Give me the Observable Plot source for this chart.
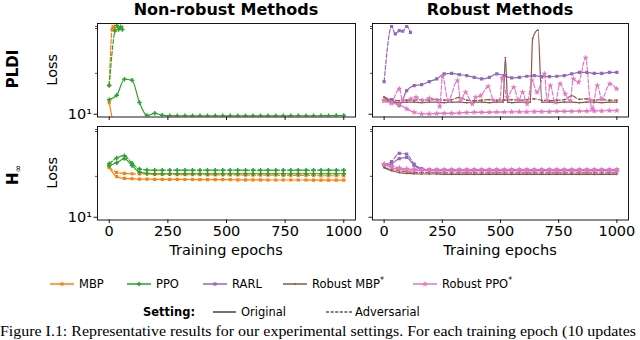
<!DOCTYPE html>
<html><head><meta charset="utf-8">
<script src="https://cdn.jsdelivr.net/npm/d3@7"></script>
<script src="https://cdn.jsdelivr.net/npm/@observablehq/plot@0.6"></script>
<style>
body{margin:0;background:#fff;}
#wrap{position:relative;width:640px;height:340px;overflow:hidden;font-family:"DejaVu Sans",sans-serif;background:#fff;}
#wrap svg{position:absolute;}
</style></head><body><div id="wrap"></div>
<script>
// ---------- categories / labels ----------
const methods = ["MBP", "PPO", "RARL", "Robust MBP", "Robust PPO"];
const methodColors = ["#ff7f0e", "#2ca02c", "#9467bd", "#8c564b", "#e377c2"];
const methodSymbols = ["square", "cross", "square", "circle", "star"];
const methodMarkerR = [1.8, 1.9, 1.8, 0.9, 2.0];
const columnTitles = ["Non-robust Methods", "Robust Methods"];
const rowTitles = ["PLDI", "H"];
const xTicks = [0, 250, 500, 750, 1000];
const yMajorTicks = [10];
const yMinorTicks = [20, 42.7, 44.2];
const xDomain = [-50, 1050];
const yDomain = [9.55, 46.5];

// common evaluation epochs (32 points)
const epochs = [0, 32, 65, 97, 129, 161, 194, 226, 258, 290, 323, 355, 387, 419, 452, 484, 516, 548, 581, 613, 645, 677, 710, 742, 774, 806, 839, 871, 903, 935, 968, 1000];

// ---------- PLDI, non-robust ----------
const pldiMbpOrigEpochs = [0, 32];
const pldiMbpOrig = [12.2, 6.2];
const pldiMbpAdvEpochs = [0, 12, 16, 20, 28];
const pldiMbpAdv = [16.3, 42, 44, 43, 120];
const pldiPpoOrig = [12.8, 13.8, 18.1, 17.8, 12.2, 9.78, 10.17, 9.83, 9.76, 9.75, 9.75, 9.74, 9.75, 9.75, 9.74, 9.75, 9.75, 9.74, 9.75, 9.75, 9.75, 9.74, 9.75, 9.75, 9.75, 9.76, 9.75, 9.75, 9.76, 9.77, 9.78, 9.8];
const pldiPpoAdvEpochs = [0, 24, 32, 40, 48, 56, 64];
const pldiPpoAdv = [16.3, 41, 45, 42, 44, 42, 150];

// ---------- PLDI, robust ----------
const pldiRarlOrig = [12.61, 12.82, 11.59, 14.94, 16.26, 16.52, 17.39, 18.21, 19.82, 20.0, 19.58, 19.24, 18.7, 18.21, 18.7, 19.82, 19.24, 18.52, 18.7, 19.03, 19.24, 18.93, 18.93, 19.03, 19.24, 19.82, 20.36, 20.36, 20.0, 20.0, 20.36, 20.36];
const pldiRarlAdvEpochs = [0, 32, 48, 65, 80, 97, 113];
const pldiRarlAdv = [17.4, 44.2, 39.0, 41.2, 40.8, 44.2, 40.0];
const pldiRmbpOrigEpochs = [0, 32, 65, 97, 129, 161, 194, 226, 258, 290, 323, 355, 387, 419, 452, 484, 511, 521, 531, 548, 581, 613, 628, 638, 661, 678, 710, 742, 774, 806, 839, 871, 903, 935, 968, 1000];
const pldiRmbpOrig = [13.3, 12.3, 12.2, 12.3, 12.3, 12.2, 12.3, 12.3, 12.2, 12.3, 12.3, 12.2, 12.3, 12.3, 12.2, 12.3, 12.3, 26.1, 12.3, 12.2, 12.3, 12.3, 12.3, 36.0, 41.5, 12.3, 12.3, 12.2, 12.3, 12.3, 12.2, 12.3, 12.3, 12.2, 12.3, 12.3];
const pldiRmbpAdv = [13.4, 12.8, 12.6, 12.7, 12.7, 12.8, 12.7, 12.9, 12.7, 12.8, 13.3, 12.7, 12.6, 12.7, 12.8, 12.7, 12.7, 12.8, 12.7, 12.8, 13.0, 12.7, 12.6, 12.7, 12.8, 13.7, 12.9, 13.0, 12.7, 12.8, 12.7, 12.7];
const pldiRppoOrig = [12.61, 12.05, 11.78, 10.96, 10.34, 10.07, 10.07, 10.12, 10.17, 10.17, 10.24, 10.29, 10.34, 10.34, 10.34, 10.38, 10.38, 10.41, 10.41, 10.41, 10.46, 10.46, 10.46, 10.52, 10.52, 10.52, 10.56, 10.56, 10.59, 10.59, 10.65, 10.65];
const pldiRppoAdvEpochs = [0, 30, 65, 80, 115, 137, 165, 194, 229, 239, 251, 275, 315, 329, 350, 379, 393, 415, 447, 471, 497, 507, 529, 557, 578, 595, 614, 635, 657, 689, 700, 714, 735, 756, 778, 799, 813, 835, 866, 885, 894, 916, 935, 970, 999];
const pldiRppoAdv = [12.6, 12.25, 15.37, 12.61, 12.98, 13.34, 12.61, 13.11, 12.61, 11.39, 19.0, 12.61, 17.69, 12.61, 14.51, 11.92, 13.34, 13.72, 15.98, 12.61, 12.61, 18.52, 13.34, 15.79, 12.61, 14.51, 11.92, 17.69, 14.51, 19.82, 12.61, 16.26, 12.25, 16.73, 14.13, 12.61, 18.21, 17.19, 25.98, 12.61, 10.96, 16.26, 12.98, 16.73, 15.37];

// ---------- H-infinity, non-robust ----------
const hinfMbpOrig = [23.3, 19.9, 19.3, 19.2, 19.1, 19.1, 19.0, 19.0, 19.0, 19.0, 18.95, 18.95, 18.9, 18.9, 18.9, 18.9, 18.9, 18.85, 18.85, 18.85, 18.85, 18.8, 18.8, 18.8, 18.8, 18.8, 18.8, 18.75, 18.75, 18.75, 18.75, 18.75];
const hinfMbpAdv = [23.3, 21.4, 21.0, 20.9, 20.8, 20.8, 20.7, 20.7, 20.7, 20.6, 20.6, 20.6, 20.6, 20.5, 20.5, 20.5, 20.5, 20.5, 20.4, 20.4, 20.4, 20.4, 20.4, 20.3, 20.3, 20.3, 20.3, 20.3, 20.2, 20.2, 20.2, 20.2];
const hinfPpoOrig = [24.0, 25.2, 27.0, 24.0, 21.5, 21.0, 20.9, 20.9, 20.9, 20.9, 20.9, 20.9, 20.9, 20.9, 20.9, 20.9, 20.9, 20.9, 20.9, 20.9, 20.9, 20.9, 20.9, 20.9, 20.9, 20.9, 20.9, 20.9, 20.9, 20.9, 20.9, 20.9];
const hinfPpoAdv = [24.7, 27.3, 28.3, 25.0, 22.6, 22.3, 22.2, 22.2, 22.2, 22.2, 22.2, 22.2, 22.2, 22.2, 22.2, 22.2, 22.2, 22.2, 22.2, 22.2, 22.2, 22.2, 22.2, 22.2, 22.2, 22.2, 22.2, 22.2, 22.2, 22.2, 22.2, 22.2];

// ---------- H-infinity, robust ----------
const hinfRarlOrig = [24.3, 24.8, 27.0, 27.5, 24.0, 22.5, 22.2, 22.2, 22.1, 22.1, 22.1, 22.1, 22.1, 22.1, 22.1, 22.1, 22.1, 22.1, 22.1, 22.1, 22.1, 22.1, 22.1, 22.1, 22.1, 22.1, 22.1, 22.1, 22.1, 22.1, 22.1, 22.1];
const hinfRarlAdv = [24.3, 25.7, 29.5, 29.1, 24.6, 22.8, 22.4, 22.3, 22.3, 22.3, 22.3, 22.3, 22.3, 22.3, 22.3, 22.3, 22.3, 22.3, 22.3, 22.3, 22.3, 22.3, 22.3, 22.3, 22.3, 22.3, 22.3, 22.3, 22.3, 22.3, 22.3, 22.3];
const hinfRmbpOrig = [23.2, 22.0, 21.3, 21.0, 20.9, 20.8, 20.8, 20.8, 20.7, 20.7, 20.7, 20.7, 20.7, 20.7, 20.7, 20.7, 20.7, 20.7, 20.7, 20.7, 20.7, 20.7, 20.7, 20.7, 20.7, 20.7, 20.7, 20.7, 20.7, 20.7, 20.7, 20.7];
const hinfRmbpAdv = [23.2, 22.5, 22.0, 21.6, 21.4, 21.3, 21.3, 21.2, 21.2, 21.2, 21.2, 21.2, 21.2, 21.2, 21.2, 21.2, 21.2, 21.2, 21.2, 21.2, 21.2, 21.2, 21.2, 21.2, 21.2, 21.2, 21.2, 21.2, 21.2, 21.2, 21.2, 21.2];
const hinfRppoOrig = [24.6, 23.2, 22.6, 22.3, 22.1, 22.0, 22.0, 21.9, 21.9, 21.9, 21.9, 21.9, 21.9, 21.9, 21.9, 21.9, 21.9, 21.9, 21.9, 21.9, 21.9, 21.9, 21.9, 21.9, 21.9, 21.9, 21.9, 21.9, 21.9, 21.9, 21.9, 21.9];
const hinfRppoAdv = [24.6, 23.8, 23.1, 22.7, 22.5, 22.4, 22.4, 22.4, 22.4, 22.4, 22.4, 22.4, 22.4, 22.4, 22.4, 22.4, 22.4, 22.4, 22.4, 22.4, 22.4, 22.4, 22.4, 22.4, 22.4, 22.4, 22.4, 22.4, 22.4, 22.4, 22.4, 22.4];

// ---------- series table ----------
const seriesList = [
  ["pldi", 0, "MBP", "orig", pldiMbpOrigEpochs, pldiMbpOrig],
  ["pldi", 0, "MBP", "adv", pldiMbpAdvEpochs, pldiMbpAdv],
  ["pldi", 0, "PPO", "orig", epochs, pldiPpoOrig],
  ["pldi", 0, "PPO", "adv", pldiPpoAdvEpochs, pldiPpoAdv],
  ["pldi", 1, "RARL", "orig", epochs, pldiRarlOrig],
  ["pldi", 1, "RARL", "adv", pldiRarlAdvEpochs, pldiRarlAdv],
  ["pldi", 1, "Robust MBP", "orig", pldiRmbpOrigEpochs, pldiRmbpOrig],
  ["pldi", 1, "Robust MBP", "adv", epochs, pldiRmbpAdv],
  ["pldi", 1, "Robust PPO", "orig", epochs, pldiRppoOrig],
  ["pldi", 1, "Robust PPO", "adv", pldiRppoAdvEpochs, pldiRppoAdv],
  ["hinf", 0, "MBP", "orig", epochs, hinfMbpOrig],
  ["hinf", 0, "MBP", "adv", epochs, hinfMbpAdv],
  ["hinf", 0, "PPO", "orig", epochs, hinfPpoOrig],
  ["hinf", 0, "PPO", "adv", epochs, hinfPpoAdv],
  ["hinf", 1, "RARL", "orig", epochs, hinfRarlOrig],
  ["hinf", 1, "RARL", "adv", epochs, hinfRarlAdv],
  ["hinf", 1, "Robust MBP", "orig", epochs, hinfRmbpOrig],
  ["hinf", 1, "Robust MBP", "adv", epochs, hinfRmbpAdv],
  ["hinf", 1, "Robust PPO", "orig", epochs, hinfRppoOrig],
  ["hinf", 1, "Robust PPO", "adv", epochs, hinfRppoAdv]
];
const rows = [];
seriesList.forEach(([row, col, method, setting, xs, ys], k) => {
  xs.forEach((e, i) => rows.push({row, col, method, setting, series: k, epoch: e, loss: ys[i]}));
});

const wrap = document.getElementById("wrap");
const FONT = "DejaVu Sans";

function drawPanel(row, col, frame) {
  const [fl, ft, fw, fh] = frame;
  const mL = 45, mR = 4, mT = 4, mB = 42;
  const data = rows.filter(d => d.row === row && d.col === col);
  const showX = row === "hinf";
  const showY = col === 0;
  const marks = [];
  ["orig", "adv"].forEach(s => {
    marks.push(Plot.line(data.filter(d => d.setting === s), {
      x: "epoch", y: "loss", z: "series", stroke: "method",
      strokeWidth: 1.2, strokeDasharray: s === "adv" ? "4,2" : null,
      curve: "monotone-x", clip: true
    }));
  });
  methods.forEach((m, i) => {
    const md = data.filter(d => d.method === m);
    if (md.length) marks.push(Plot.dot(md, {
      x: "epoch", y: "loss", fill: "method", symbol: () => methodSymbols[i],
      r: methodMarkerR[i], stroke: "none", clip: true
    }));
  });
  marks.push(Plot.frame({stroke: "#000", strokeWidth: 0.9}));
  marks.push(Plot.axisX({ticks: xTicks, tickSize: 3.5, tickPadding: 2, label: null,
    tickFormat: showX ? (d => String(d)) : (() => ""), strokeWidth: 0.9}));
  marks.push(Plot.axisY({ticks: yMajorTicks, tickSize: 3.5, tickPadding: 2, label: null,
    tickFormat: showY ? (() => "10\u00b9") : (() => ""), strokeWidth: 0.9}));
  marks.push(Plot.axisY({ticks: yMinorTicks, tickSize: 2, label: null, tickFormat: () => "", strokeWidth: 0.7}));
  const chart = Plot.plot({
    width: mL + fw + mR, height: mT + fh + mB,
    marginLeft: mL, marginRight: mR, marginTop: mT, marginBottom: mB,
    style: {fontFamily: FONT, fontSize: "14.5px", background: "transparent", overflow: "visible", color: "#000"},
    x: {domain: xDomain},
    y: {type: "log", domain: yDomain},
    color: {domain: methods, range: methodColors},
    symbol: {type: "identity"},
    marks
  });
  chart.style.left = (fl - mL) + "px";
  chart.style.top = (ft - mT) + "px";
  wrap.appendChild(chart);
}

const frames = {
  "pldi0": [97, 23, 258, 93.5],
  "pldi1": [372, 23, 256, 93.5],
  "hinf0": [97, 126, 258, 93.5],
  "hinf1": [372, 126, 256, 93.5]
};
drawPanel("pldi", 0, frames.pldi0);
drawPanel("pldi", 1, frames.pldi1);
drawPanel("hinf", 0, frames.hinf0);
drawPanel("hinf", 1, frames.hinf1);

// ---------- overlay: titles, labels, legend, caption ----------
const svg = d3.select(wrap).append("svg").attr("width", 640).attr("height", 340)
  .style("left", "0px").style("top", "0px").attr("font-family", FONT);
columnTitles.forEach((t, i) => {
  const f = i === 0 ? frames.pldi0 : frames.pldi1;
  svg.append("text").attr("x", f[0] + f[2] / 2).attr("y", 15).attr("text-anchor", "middle")
    .attr("font-size", 16).attr("font-weight", "bold").text(t);
  svg.append("text").attr("x", f[0] + f[2] / 2).attr("y", 255).attr("text-anchor", "middle")
    .attr("font-size", 14.5).text("Training epochs");
});
svg.append("text").attr("transform", "translate(18,69) rotate(-90)").attr("text-anchor", "middle")
  .attr("font-size", 15).attr("font-weight", "bold").text(rowTitles[0]);
const h = svg.append("text").attr("transform", "translate(18,185) rotate(-90)")
  .attr("font-size", 15).attr("font-weight", "bold");
h.append("tspan").text(rowTitles[1]);
h.append("tspan").attr("dy", 3).attr("font-size", 9).attr("font-weight", "normal").text("\u221e");
[frames.pldi0, frames.hinf0].forEach(f => {
  svg.append("text").attr("transform", `translate(57,${f[1] + f[3] / 2}) rotate(-90)`)
    .attr("text-anchor", "middle").attr("font-size", 14.5).text("Loss");
});

// legend row 1
const legendX = [50, 127, 203, 283, 413];
const symMap = {square: d3.symbolSquare, cross: d3.symbolCross, star: d3.symbolStar, circle: d3.symbolCircle};
methods.forEach((m, i) => {
  const x0 = legendX[i], y0 = 284;
  svg.append("line").attr("x1", x0).attr("x2", x0 + 24).attr("y1", y0).attr("y2", y0)
    .attr("stroke", methodColors[i]).attr("stroke-width", 1.5);
  svg.append("path").attr("d", d3.symbol(symMap[methodSymbols[i]], Math.PI * methodMarkerR[i] ** 2)())
    .attr("transform", `translate(${x0 + 12},${y0})`).attr("fill", methodColors[i]);
  const t = svg.append("text").attr("x", x0 + 29).attr("y", y0 + 4.2).attr("font-size", 11.5);
  if (m.startsWith("Robust")) {
    t.append("tspan").text(m);
    t.append("tspan").attr("dy", -5).attr("font-size", 8).text("*");
  } else t.text(m);
});
// legend row 2
const y2 = 312;
svg.append("text").attr("x", 143).attr("y", y2 + 4.2).attr("font-size", 11.5).attr("font-weight", "bold").text("Setting:");
svg.append("line").attr("x1", 213).attr("x2", 236).attr("y1", y2).attr("y2", y2).attr("stroke", "#000").attr("stroke-width", 1.1);
svg.append("text").attr("x", 241).attr("y", y2 + 4.2).attr("font-size", 11.5).text("Original");
svg.append("line").attr("x1", 326).attr("x2", 352).attr("y1", y2).attr("y2", y2).attr("stroke", "#000").attr("stroke-width", 1.1).attr("stroke-dasharray", "3,1.6");
svg.append("text").attr("x", 355).attr("y", y2 + 4.2).attr("font-size", 11.5).text("Adversarial");
// caption
svg.append("text").attr("x", 0).attr("y", 335.5).attr("font-family", "Liberation Serif").attr("font-size", 15)
  .attr("textLength", 636).attr("lengthAdjust", "spacingAndGlyphs")
  .text("Figure I.1: Representative results for our experimental settings. For each training epoch (10 updates");
</script></body></html>
